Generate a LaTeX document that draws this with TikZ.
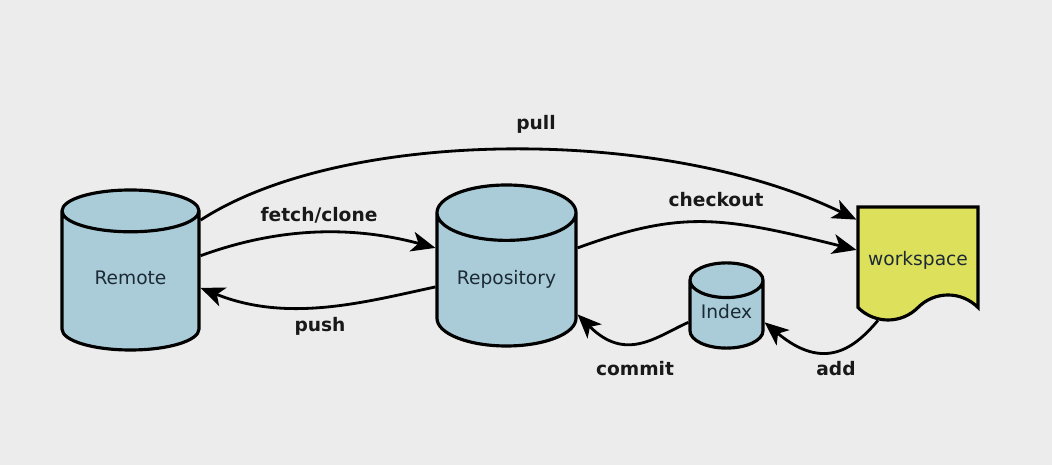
\documentclass[tikz,border=0pt]{standalone}
\usepackage{fontspec}
\setmainfont{DejaVu Sans}
\usetikzlibrary{arrows.meta, shapes.geometric, shapes.symbols}

\definecolor{bgcol}{HTML}{ECECEC}
\definecolor{dbblue}{HTML}{A9CCD8}
\definecolor{wsyellow}{HTML}{DDE05A}
\definecolor{inkcol}{HTML}{1C2A35}

\tikzset{
  db/.style={cylinder, shape border rotate=90, aspect=0.5, anchor=shape center, draw=black,
    line width=1.8pt, fill=dbblue, text=inkcol, text height=7.7pt, text depth=9pt,
    font=\fontsize{10.6}{13}\selectfont},
  flow/.style={line width=1.6pt, -{Stealth[length=4.8mm, width=4mm, inset=1.3mm]}},
  flowlabel/.style={font=\bfseries\fontsize{10.6}{13}\selectfont, text=black!90}
}

\begin{document}
\begin{tikzpicture}
    \fill[bgcol] (0,0) rectangle (21.04,9.3);
    \useasboundingbox (0,0) rectangle (21.04,9.3);

    % Stores
    \node[db, minimum width=2.74cm, minimum height=3.2cm] (remote) at (2.61,3.9) {Remote};
    \node[db, minimum width=2.78cm, minimum height=3.22cm] (repo) at (10.13,3.99) {Repository};
    \node[db, minimum width=1.46cm, minimum height=1.7cm, aspect=0.55] (index) at (14.53,3.19) {Index};
    \node[tape, tape bend top=none, tape bend bottom=in and out, tape bend height=0.5cm,
      minimum width=2.4cm, minimum height=2.26cm, draw=black, line width=1.8pt,
      fill=wsyellow, text=inkcol, text height=19pt, text depth=2.3pt,
      font=\fontsize{10.6}{13}\selectfont] (work) at (18.36,4.28) {workspace};

    % Labels
    \node[flowlabel] (lpull) at (10.72,6.82) {pull};
    \node[flowlabel] (lfetch) at (6.38,5.0) {fetch/clone};
    \node[flowlabel] (lcheckout) at (14.32,5.3) {checkout};
    \node[flowlabel] (lpush) at (6.4,2.78) {push};
    \node[flowlabel] (lcommit) at (12.7,1.92) {commit};
    \node[flowlabel] (ladd) at (16.72,1.92) {add};

    % Flows
    \draw[flow] (remote.43) .. controls +(33:3.4) and +(154:4.3) .. (work.153);
    \draw[flow] (remote.23.5) .. controls +(20:1.6) and +(165:1.8) .. (repo.152.6);
    \draw[flow] (repo.28.7) .. controls +(20:2.2) and +(166:2.8) .. (work.179);
    \draw[flow] (repo.181.6) .. controls +(192:1.4) and +(-22:1.9) .. (remote.358.3);
    \draw[flow] (index.184.7) .. controls +(204:0.7) and +(-45:1.37) .. (repo.338.8);
    \draw[flow] (work.240) .. controls +(230:0.7) and +(-40:1.57) .. (index.356.9);
\end{tikzpicture}
\end{document}
